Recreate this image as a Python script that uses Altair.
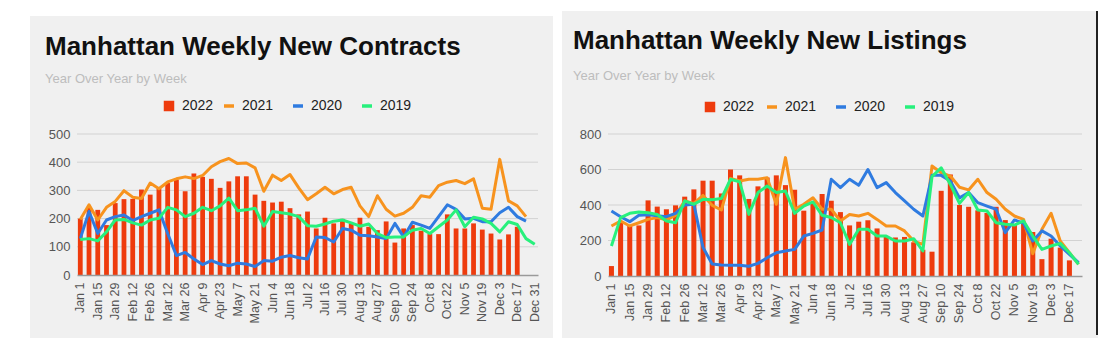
import altair as alt
import pandas as pd

# ---------------- data ----------------
WEEKS = ["Jan 1", "Jan 8", "Jan 15", "Jan 22", "Jan 29", "Feb 5", "Feb 12", "Feb 19", "Feb 26",
         "Mar 5", "Mar 12", "Mar 19", "Mar 26", "Apr 2", "Apr 9", "Apr 16", "Apr 23", "Apr 30",
         "May 7", "May 14", "May 21", "May 28", "Jun 4", "Jun 11", "Jun 18", "Jun 25",
         "Jul 2", "Jul 9", "Jul 16", "Jul 23", "Jul 30", "Aug 6", "Aug 13", "Aug 20", "Aug 27",
         "Sep 3", "Sep 10", "Sep 17", "Sep 24", "Oct 1", "Oct 8", "Oct 15", "Oct 22", "Oct 29",
         "Nov 5", "Nov 12", "Nov 19", "Nov 26", "Dec 3", "Dec 10", "Dec 17", "Dec 24", "Dec 31"]
CONTRACT_WEEKS = WEEKS
LISTING_WEEKS = WEEKS[:52]

# Manhattan Weekly New Contracts
contracts_2022 = [200, 240, 231, 177, 255, 269, 270, 303, 285, 306, 326, 338, 297, 360, 348, 341, 309, 332,
                  350, 350, 285, 263, 257, 260, 237, 215, 225, 165, 203, 183, 199, 183, 203, 171, 159,
                  190, 115, 165, 177, 157, 145, 145, 215, 165, 165, 183, 161, 147, 126, 144, 171, None, None]
contracts_2021 = [197, 249, 195, 240, 261, 299, 276, 271, 326, 306, 330, 341, 348, 342, 353, 384, 402, 413,
                  395, 397, 380, 297, 354, 335, 356, 309, 267, 288, 311, 288, 303, 311, 245, 207, 281,
                  233, 209, 219, 240, 281, 276, 317, 329, 335, 324, 341, 237, 233, 410, 263, 245, 207, None]
contracts_2020 = [129, 225, 147, 195, 207, 213, 193, 207, 219, 231, 147, 69, 80, 57, 37, 51, 39, 33,
                  42, 39, 30, 51, 49, 63, 69, 61, 57, 135, 133, 117, 165, 159, 141, 139, 135,
                  129, 183, 135, 187, 177, 165, 207, 249, 233, 199, 201, 189, 189, 221, 240, 207, 191, None]
contracts_2019 = [126, 129, 121, 153, 195, 197, 185, 177, 195, 201, 240, 231, 207, 219, 240, 228, 245, 273,
                  228, 231, 237, 173, 225, 221, 216, 207, 175, 173, 181, 191, 195, 185, 173, 181, 147,
                  133, 135, 135, 159, 165, 147, 171, 195, 231, 171, 205, 199, 183, 153, 189, 179, 129, 109]

# Manhattan Weekly New Listings
listings_2022 = [56, 300, 282, 285, 426, 391, 376, 398, 447, 488, 537, 537, 465, 600, 567, 434, 505, 555,
                 567, 512, 486, 368, 415, 462, 424, 360, 285, 306, 314, 268, 220, 217, 220, 190, 148,
                 137, 480, 572, 400, 390, 370, 355, 390, 315, 290, 295, 248, 95, 210, 160, 88, None]
listings_2021 = [282, 310, 282, 300, 319, 329, 316, 342, 423, 409, 454, 398, 372, 550, 535, 545, 545, 554,
                 404, 667, 376, 404, 441, 376, 376, 310, 347, 338, 353, 319, 282, 282, 254, 197, 178,
                 620, 582, 563, 500, 485, 545, 470, 432, 376, 338, 319, 125, 263, 353, 197, 131, 66]
listings_2020 = [366, 334, 306, 342, 345, 340, 334, 353, 400, 404, 160, 68, 62, 60, 60, 55, 71, 103,
                 131, 141, 150, 225, 240, 259, 545, 498, 545, 511, 600, 498, 526, 470, 423, 376, 338,
                 567, 567, 535, 440, 470, 413, 394, 376, 244, 316, 297, 197, 254, 225, 169, 122, 75]
listings_2019 = [169, 329, 353, 361, 357, 347, 310, 300, 423, 404, 432, 430, 436, 545, 530, 347, 470, 507,
                 470, 479, 353, 394, 417, 342, 330, 300, 178, 263, 263, 225, 225, 197, 197, 210, 141,
                 560, 610, 516, 409, 470, 372, 366, 300, 291, 287, 310, 225, 150, 169, 184, 131, 66]

CONTRACT_TICKS = [0, 100, 200, 300, 400, 500]
LISTING_TICKS = [0, 200, 400, 600, 800]

# ---------------- style ----------------
RED = "#ee3b0d"
ORANGE = "#f7931e"
BLUE = "#2f7be0"
GREEN = "#27f07c"
CARD = "#f0f0f0"
FONT = "Liberation Sans"


def panel(weeks, s22, s21, s20, s19, ticks, w, h, title, dx, dy, sub_pad,
          fill_lx, stroke_lx, legend_y, card, border=None):
    bars = pd.DataFrame({"week": weeks, "year": "2022", "value": s22}).dropna()
    rows = []
    for yr, s in (("2021", s21), ("2020", s20), ("2019", s19)):
        for wk, v in zip(weeks, s):
            if v is not None:
                rows.append({"week": wk, "year": yr, "value": v})
    lines = pd.DataFrame(rows)

    xs = alt.X("week:N",
               scale=alt.Scale(domain=weeks, paddingInner=0.45, paddingOuter=0.1),
               axis=alt.Axis(values=weeks[::2], title=None, ticks=False, domain=True,
                             domainColor="#9a9a9a", domainWidth=1.5, grid=False,
                             labelAngle=270, labelFontSize=12.5, labelColor="#555555",
                             labelFont=FONT, labelPadding=7, labelOverlap=False, zindex=1))
    ys_scale = alt.Scale(domain=[ticks[0], ticks[-1]], nice=False)
    yaxis = alt.Axis(values=ticks, title=None, ticks=False, domain=False, grid=False,
                     labelFontSize=13, labelColor="#555555", labelFont=FONT,
                     labelPadding=7, zindex=1)

    fill_legend = alt.Legend(title=None, orient="none", legendX=fill_lx, legendY=legend_y,
                             direction="horizontal", symbolType="square", symbolSize=110,
                             labelFontSize=14, labelFont=FONT, labelColor="#222222",
                             labelOffset=6, padding=0)
    stroke_legend = alt.Legend(title=None, orient="none", legendX=stroke_lx, legendY=legend_y,
                               direction="horizontal", symbolType="stroke", symbolSize=100,
                               symbolStrokeWidth=3.5, columnPadding=12,
                               labelFontSize=14, labelFont=FONT, labelColor="#222222",
                               labelOffset=6, padding=0)
    stroke_scale = alt.Scale(domain=["2021", "2020", "2019"], range=[ORANGE, BLUE, GREEN])

    bg = alt.Chart(alt.Data(values=[{}])).mark_rect(fill=CARD).encode(
        x=alt.value(card[0]), x2=alt.value(card[1]), y=alt.value(card[2]), y2=alt.value(card[3]))

    grid = alt.Chart(pd.DataFrame({"value": ticks[1:]})).mark_rule(
        color="#d2d2d2", strokeWidth=1).encode(
        y=alt.Y("value:Q", scale=ys_scale, axis=yaxis), x=alt.value(0), x2=alt.value(w))

    bar = alt.Chart(bars).mark_bar().encode(
        x=xs, y=alt.Y("value:Q", scale=ys_scale, axis=yaxis),
        fill=alt.Fill("year:N", scale=alt.Scale(domain=["2022"], range=[RED]), legend=fill_legend))

    line_layers = []
    for yr in ("2021", "2020", "2019"):
        line_layers.append(
            alt.Chart(lines[lines.year == yr]).mark_line(strokeWidth=3, strokeJoin="round").encode(
                x=xs, y=alt.Y("value:Q", scale=ys_scale, axis=yaxis),
                stroke=alt.Stroke("year:N", scale=stroke_scale, legend=stroke_legend)))

    layers = [bg, grid, bar] + line_layers
    if border is not None:
        layers.append(alt.Chart(alt.Data(values=[{}])).mark_rule(color="#222222", strokeWidth=2).encode(
            x=alt.value(border[0]), y=alt.value(border[1]), y2=alt.value(border[2])))

    return alt.layer(*layers).properties(
        width=w, height=h,
        title=alt.TitleParams(text=title, subtitle="Year Over Year by Week", anchor="start",
                              frame="group", dx=dx, dy=dy, offset=0,
                              font=FONT, fontSize=26, fontWeight="bold", color="#111111",
                              subtitleFont=FONT, subtitleFontSize=13, subtitleColor="#bdbdbd",
                              subtitlePadding=sub_pad))


left = panel(CONTRACT_WEEKS, contracts_2022, contracts_2021, contracts_2020, contracts_2019,
             CONTRACT_TICKS, 461, 141, "Manhattan Weekly New Contracts", -32, 70, 13,
             85, 145, -35, (-47, 476, -118, 204))
right = panel(LISTING_WEEKS, listings_2022, listings_2021, listings_2020, listings_2019,
              LISTING_TICKS, 474, 142, "Manhattan Weekly New Listings", -35, 73, 16,
              95, 157, -34, (-46, 490, -123, 204), border=(489, -123, 201))

chart = alt.hconcat(left, right, spacing=9).resolve_scale(
    x="independent", y="independent", fill="independent", stroke="independent"
).resolve_legend(fill="independent", stroke="independent").properties(
    padding={"left": 30, "top": 10, "right": 10, "bottom": 13}, background="white"
).configure_view(stroke=None)

chart.save("out.html", embed_options={"renderer": "svg", "actions": False})
